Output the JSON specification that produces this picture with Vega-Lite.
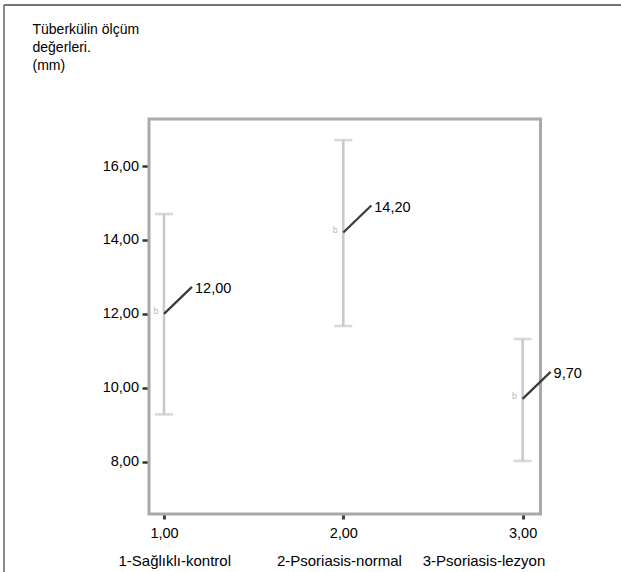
{
  "$schema": "https://vega.github.io/schema/vega-lite/v6.json",
  "autosize": "none",
  "padding": {"left": 2, "top": 3, "right": 0, "bottom": 0},
  "width": 619,
  "height": 569,
  "background": "white",
  "config": {
    "view": {"stroke": null},
    "font": "Liberation Sans",
    "locale": {"number": {"decimal": ",", "thousands": ".", "grouping": [3], "currency": ["", ""]}}
  },
  "datasets": {
    "groups": [
      {"group": 1, "name": "1-Sağlıklı-kontrol", "mean": 12.0, "lo": 9.28, "hi": 14.70},
      {"group": 2, "name": "2-Psoriasis-normal", "mean": 14.2, "lo": 11.67, "hi": 16.70},
      {"group": 3, "name": "3-Psoriasis-lezyon", "mean": 9.7, "lo": 8.02, "hi": 11.32}
    ]
  },
  "data": {"name": "groups"},
  "layer": [
    {
      "mark": {"type": "rule", "color": "#c8c8c8", "strokeWidth": 2.5},
      "encoding": {
        "x": {
          "field": "group", "type": "quantitative",
          "scale": {"domain": [0.09649, 3.5488], "nice": false, "zero": false},
          "axis": {
            "orient": "bottom", "offset": -58, "values": [1, 2, 3], "format": ".2f",
            "domain": false, "grid": false,
            "tickSize": 5, "tickWidth": 3, "tickColor": "#444444",
            "labelFont": "Liberation Sans", "labelFontSize": 14.5, "labelColor": "#000000",
            "labelBaseline": "alphabetic", "labelPadding": 18, "labelFlush": false,
            "title": "1-Sağlıklı-kontrol\u00a0\u00a0\u00a0\u00a0\u00a0\u00a0\u00a0\u00a0\u00a0\u00a0\u00a02-Psoriasis-normal\u00a0\u00a0\u00a0\u00a0\u00a03-Psoriasis-lezyon",
            "titleFont": "Liberation Sans", "titleFontSize": 15, "titleFontWeight": "normal", "titleColor": "#000000",
            "titleAlign": "left", "titleAnchor": "start", "titleBaseline": "alphabetic", "titleX": 116, "titleY": 51
          }
        },
        "y": {
          "field": "lo", "type": "quantitative",
          "scale": {"domain": [5.0152, 20.4102], "nice": false, "zero": false},
          "axis": {
            "orient": "left", "offset": -147, "values": [8, 10, 12, 14, 16], "format": ".2f",
            "domain": false, "grid": false,
            "tickSize": 7, "tickWidth": 2.5, "tickColor": "#333333",
            "labelFont": "Liberation Sans", "labelFontSize": 14.5, "labelColor": "#000000",
            "labelPadding": 3.5, "labelBaseline": "middle", "labelFlush": false,
            "title": ["Tüberkülin ölçüm", "değerleri.", "(mm)"],
            "titleFont": "Liberation Sans", "titleFontSize": 14, "titleFontWeight": "normal", "titleColor": "#000000",
            "titleAngle": 0, "titleAlign": "left", "titleAnchor": "start", "titleBaseline": "alphabetic",
            "titleLineHeight": 18, "titleX": -117, "titleY": 30
          }
        },
        "y2": {"field": "hi"}
      }
    },
    {
      "data": {"values": [{}]},
      "mark": {"type": "rule", "color": "#444444", "strokeWidth": 1.5},
      "encoding": {
        "x": {"datum": 0.10764, "type": "quantitative"},
        "x2": {"datum": 3.5488},
        "y": {"datum": 20.3561, "type": "quantitative"}
      }
    },
    {
      "data": {"values": [{}]},
      "mark": {"type": "rule", "color": "#666666", "strokeWidth": 1.5},
      "encoding": {
        "x": {"datum": 0.10764, "type": "quantitative"},
        "y": {"datum": 5.0152, "type": "quantitative"},
        "y2": {"datum": 20.3561}
      }
    },
    {
      "data": {"values": [{}]},
      "mark": {"type": "rect", "fill": "transparent", "stroke": "#a9a9a9", "strokeWidth": 3},
      "encoding": {
        "x": {"datum": 0.9163, "type": "quantitative"},
        "x2": {"datum": 3.0998},
        "y": {"datum": 6.5844, "type": "quantitative"},
        "y2": {"datum": 17.2716}
      }
    },
    {
      "mark": {"type": "tick", "orient": "horizontal", "color": "#c8c8c8", "size": 18, "thickness": 2.5},
      "encoding": {
        "x": {"field": "group", "type": "quantitative"},
        "y": {"field": "lo", "type": "quantitative"}
      }
    },
    {
      "mark": {"type": "tick", "orient": "horizontal", "color": "#c8c8c8", "size": 18, "thickness": 2.5},
      "encoding": {
        "x": {"field": "group", "type": "quantitative"},
        "y": {"field": "hi", "type": "quantitative"}
      }
    },
    {
      "mark": {"type": "text", "text": "b", "fontSize": 9, "color": "#b8b8b8", "dx": -8, "dy": -3, "align": "center", "baseline": "middle"},
      "encoding": {
        "x": {"field": "group", "type": "quantitative"},
        "y": {"field": "mean", "type": "quantitative"}
      }
    },
    {
      "mark": {"type": "rule", "color": "#3a3a3a", "strokeWidth": 2.2, "x2Offset": 28, "y2Offset": -27},
      "encoding": {
        "x": {"field": "group", "type": "quantitative"},
        "x2": {"field": "group"},
        "y": {"field": "mean", "type": "quantitative"},
        "y2": {"field": "mean"}
      }
    },
    {
      "mark": {"type": "text", "font": "Liberation Sans", "fontSize": 14.5, "color": "#000000", "align": "left", "baseline": "middle", "dx": 31, "dy": -25},
      "encoding": {
        "x": {"field": "group", "type": "quantitative"},
        "y": {"field": "mean", "type": "quantitative"},
        "text": {"field": "mean", "type": "quantitative", "format": ".2f"}
      }
    }
  ]
}
